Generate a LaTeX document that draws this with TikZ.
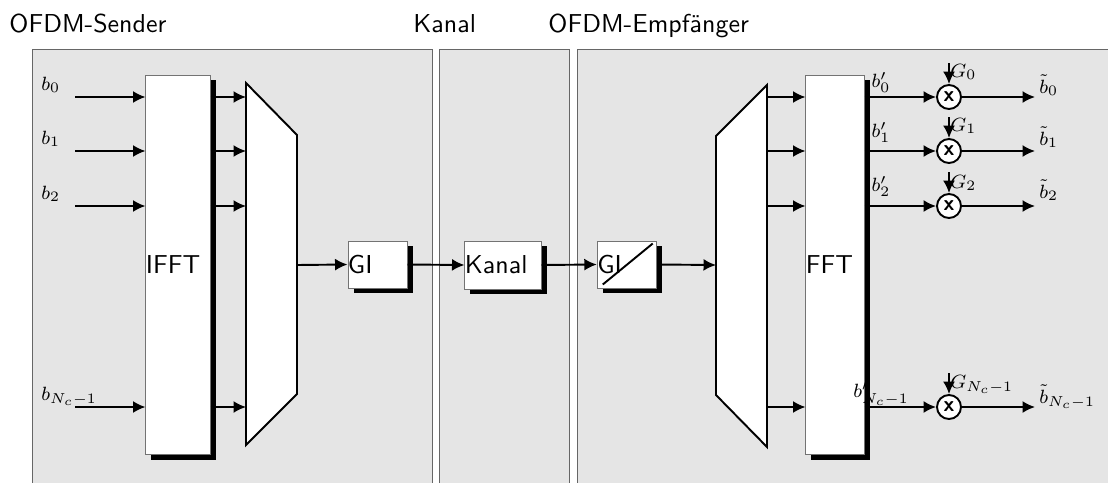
\documentclass[tikz,border=0pt]{standalone}
\usepackage{amsmath}
\usetikzlibrary{shadows,arrows.meta}

\tikzset{
  panel/.style={draw=black!60, fill=black!10},
  title/.style={anchor=base west, inner sep=0pt, font=\fontsize{10.8}{13}\sffamily},
  blockbox/.style={draw=black!55, fill=white, inner sep=0pt,
    drop shadow={shadow xshift=2.3pt, shadow yshift=-2.2pt, fill=black, opacity=1}},
  blocklabel/.style={anchor=west, inner sep=0pt, font=\fontsize{10.8}{13}\sffamily},
  trapez/.style={draw=black, thick, fill=white, line join=miter},
  conn/.style={thick, -{Latex[length=5.2pt, width=5pt]}},
  sym/.style={inner sep=0pt, font=\fontsize{8.5}{10}\selectfont},
  mult/.style={circle, draw, thick, fill=white, minimum size=10pt, inner sep=0pt,
    font=\sffamily\bfseries\small}
}

\begin{document}
\begin{tikzpicture}[x=0.4167pt, y=-0.4167pt]
  \useasboundingbox (0,0) rectangle (1108,482);
  \clip (0,0) rectangle (1108,482);

  % Bereiche
  \draw[panel] (32,49) rectangle (432,500);
  \draw[panel] (439,49) rectangle (569,500);
  \draw[panel] (577,49) rectangle (1120,500);
  \node[title] (tsend) at (9,32) {OFDM-Sender};
  \node[title] (tkanal) at (413,32) {Kanal};
  \node[title] (tempf) at (548,32) {OFDM-Empf\"anger};

  % Sender
  \node[blockbox, minimum width=26.7pt, minimum height=158.3pt,
    label={[blocklabel]west:IFFT}] (ifft) at (178,265) {};
  \draw[trapez] (246,83) coordinate (mux nw) -- (297,135) -- (297,394)
    -- (246,445) -- cycle;
  \coordinate (mux out) at (297,265);
  \node[blockbox, minimum width=24.6pt, minimum height=19.6pt,
    label={[blocklabel]west:GI}] (gi) at (377.5,264.5) {};

  % Kanal
  \node[blockbox, minimum width=31.7pt, minimum height=20pt,
    label={[blocklabel]west:Kanal}] (kanal) at (503,265) {};

  % Empfaenger
  \node[blockbox, minimum width=24.8pt, minimum height=19.6pt,
    label={[blocklabel]west:GI}] (gis) at (627,264.5) {};
  \draw[thick] ([shift={(6,-4)}]gis.south west) -- ([shift={(-4.5,3)}]gis.north east);
  \draw[trapez] (716,136) coordinate (demux w) -- (767,85) coordinate (demux ne)
    -- (767,447) -- (716,395) -- cycle;
  \coordinate (demux in) at (716,265);
  \node[blockbox, minimum width=24.2pt, minimum height=158.3pt,
    label={[blocklabel]west:FFT}] (fft) at (835,265) {};

  % Signalfluss
  \draw[conn] (mux out) -- (gi.west);
  \draw[conn] (gi.east) -- (kanal.west);
  \draw[conn] (kanal.east) -- (gis.west);
  \draw[conn] (gis.east) -- (demux in);

  \foreach \y/\n/\bp/\g/\bt [count=\i from 0] in
      {97/0/87/77/93, 151/1/137/131/145, 206/2/191/188/198, 407/{N_c-1}/397/388/403} {
    \coordinate (in\i) at (75,\y);
    \draw[conn] (in\i) -- (in\i -| ifft.west);
    \node[sym, anchor=base west] (b\i) at (41,\y-7) {$b_{\n}$};
    \draw[conn] (ifft.east |- in\i) -- (in\i -| mux nw);
    \draw[conn] (in\i -| demux ne) -- (in\i -| fft.west);
    \node[mult] (m\i) at (949,\y) {x};
    \draw[conn] (fft.east |- in\i) -- (m\i.west);
    \node[sym, anchor=base] (bp\i) at (881,\bp) {$b'_{\n}$};
    \coordinate (g\i) at (949,\y-34);
    \draw[conn] (g\i) -- (m\i.north);
    \node[sym, anchor=base west] (gl\i) at (950,\g) {$G_{\n}$};
    \coordinate (out\i) at (1035,\y);
    \draw[conn] (m\i.east) -- (out\i);
    \node[sym, anchor=base west] (bt\i) at (1039,\bt) {$\tilde{b}_{\n}$};
  }
\end{tikzpicture}
\end{document}
